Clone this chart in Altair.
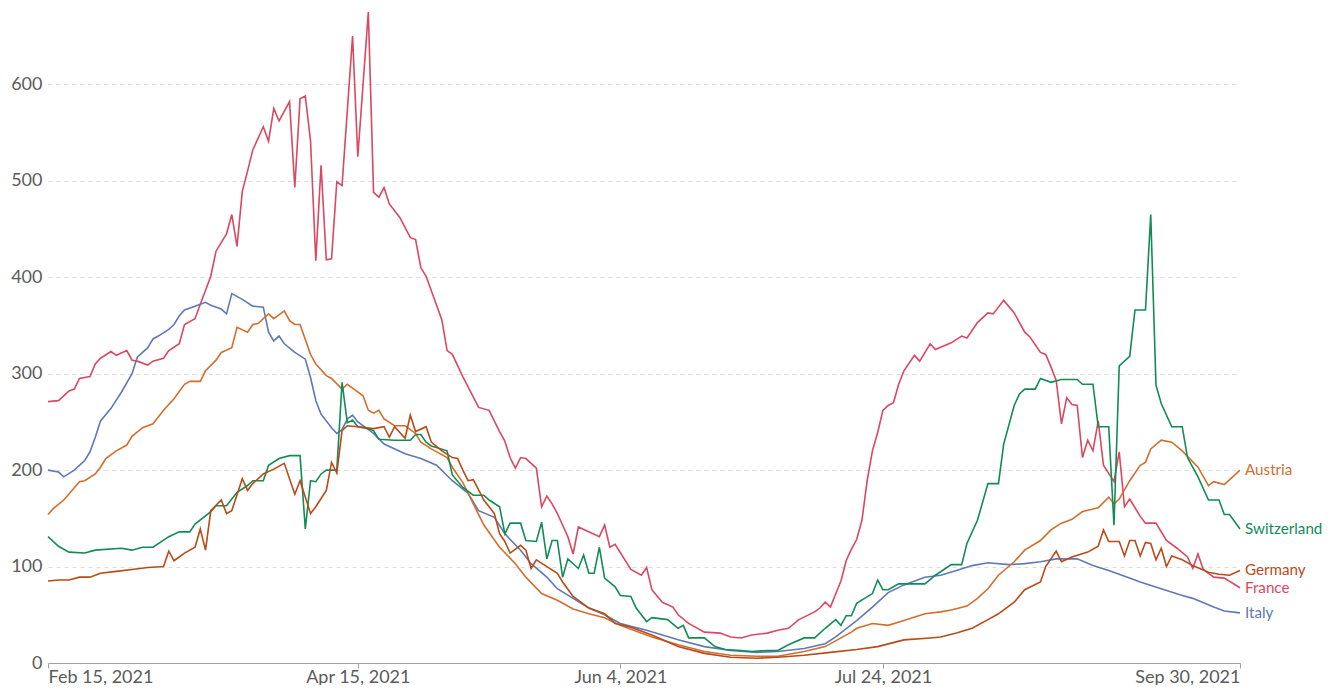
import altair as alt
import pandas as pd

START = pd.Timestamp("2021-02-15")

countries = ["France", "Italy", "Austria", "Switzerland", "Germany"]
colors = ["#DA4861", "#6079B4", "#D26F2C", "#128C55", "#BA4A17"]

france_days = [0, 2, 4, 5, 6, 8, 9, 10, 12, 13, 15, 16, 17, 19, 20, 22, 23, 25, 26, 28, 29, 31, 32, 34, 35, 36, 37, 38, 39, 41, 42, 43, 44, 46, 47, 48, 49, 50, 51, 52, 53, 54, 55, 56, 58, 59, 61, 62, 63, 64, 65, 67, 69, 70, 71, 72, 75, 76, 77, 79, 82, 84, 86, 87, 88, 89, 90, 91, 93, 94, 95, 96, 97, 99, 100, 101, 105, 106, 107, 108, 111, 113, 114, 115, 117, 119, 120, 122, 125, 128, 130, 132, 134, 137, 139, 141, 143, 146, 147, 148, 149, 151, 152, 153, 154, 155, 156, 157, 158, 159, 160, 161, 162, 163, 165, 166, 168, 169, 172, 174, 175, 177, 179, 180, 182, 184, 186, 187, 189, 190, 191, 192, 193, 194, 195, 196, 197, 198, 199, 200, 201, 203, 204, 205, 206, 208, 209, 211, 213, 215, 217, 218, 219, 220, 222, 224, 227]
france_vals = [271, 272, 282, 284, 295, 297, 310, 316, 323, 319, 324, 314, 313, 309, 313, 316, 324, 331, 351, 357, 372, 401, 427, 445, 465, 432, 489, 510, 532, 556, 541, 575, 562, 582, 493, 585, 588, 541, 417, 516, 418, 419, 499, 495, 650, 525, 675, 488, 483, 493, 476, 462, 441, 439, 410, 401, 356, 324, 320, 297, 265, 262, 240, 230, 213, 202, 213, 212, 202, 162, 173, 165, 155, 131, 113, 141, 131, 143, 120, 123, 97, 91, 99, 76, 63, 58, 50, 41, 32, 31, 27, 26, 29, 31, 34, 36, 45, 53, 57, 63, 58, 85, 106, 118, 128, 148, 189, 220, 239, 262, 267, 270, 289, 303, 319, 313, 331, 325, 332, 339, 337, 353, 363, 362, 376, 363, 343, 338, 322, 320, 307, 293, 248, 275, 268, 267, 213, 231, 220, 251, 205, 188, 219, 162, 170, 152, 145, 145, 127, 119, 110, 98, 113, 97, 89, 88, 78]

italy_days = [0, 2, 3, 5, 7, 8, 9, 10, 12, 14, 16, 17, 19, 20, 21, 23, 24, 25, 26, 28, 30, 31, 33, 34, 35, 37, 39, 41, 42, 43, 44, 45, 47, 49, 50, 51, 52, 54, 55, 56, 57, 58, 59, 62, 64, 68, 71, 74, 77, 80, 82, 85, 87, 90, 92, 95, 97, 100, 103, 106, 109, 111, 114, 120, 125, 130, 135, 139, 144, 148, 150, 154, 157, 160, 163, 167, 170, 173, 176, 179, 183, 186, 189, 192, 196, 199, 202, 204, 208, 212, 216, 218, 222, 224, 227]
italy_vals = [200, 198, 193, 200, 210, 219, 234, 251, 264, 281, 300, 317, 327, 336, 339, 346, 351, 360, 366, 370, 374, 371, 367, 362, 383, 377, 370, 369, 343, 334, 339, 331, 322, 315, 296, 272, 258, 244, 238, 242, 253, 257, 250, 238, 227, 217, 212, 205, 189, 176, 158, 151, 134, 117, 103, 89, 77, 67, 57, 50, 41, 38, 34, 24, 17, 13, 11, 12, 15, 20, 27, 44, 58, 73, 81, 89, 91, 96, 101, 104, 102, 103, 105, 108, 108, 101, 96, 92, 84, 77, 70, 67, 58, 54, 52]

austria_days = [0, 1, 3, 6, 7, 9, 10, 11, 13, 15, 16, 18, 20, 22, 24, 26, 27, 29, 30, 32, 33, 35, 36, 38, 39, 40, 42, 43, 45, 46, 47, 48, 50, 51, 53, 54, 56, 57, 58, 60, 61, 62, 63, 64, 66, 68, 70, 71, 73, 76, 77, 79, 81, 83, 86, 89, 91, 94, 97, 100, 103, 106, 109, 111, 115, 120, 125, 130, 135, 139, 144, 148, 151, 153, 154, 157, 160, 163, 167, 170, 172, 175, 177, 179, 181, 184, 186, 189, 191, 193, 195, 197, 200, 202, 203, 204, 206, 208, 209, 210, 212, 214, 216, 219, 221, 222, 224, 227]
austria_vals = [154, 160, 169, 188, 189, 196, 203, 212, 220, 226, 235, 244, 248, 262, 274, 289, 292, 292, 303, 314, 322, 327, 348, 343, 351, 352, 362, 357, 365, 355, 351, 351, 320, 310, 298, 295, 284, 289, 285, 277, 262, 259, 262, 253, 246, 246, 238, 229, 222, 213, 203, 187, 165, 143, 120, 103, 89, 72, 65, 56, 51, 47, 39, 35, 27, 19, 12, 8, 7, 7, 12, 17, 26, 32, 36, 41, 39, 44, 51, 53, 55, 59, 67, 77, 91, 105, 117, 127, 138, 145, 149, 157, 161, 172, 165, 170, 189, 205, 208, 222, 231, 229, 220, 203, 184, 188, 185, 200]

switzerland_days = [0, 2, 4, 7, 9, 14, 16, 18, 20, 23, 25, 27, 28, 31, 32, 34, 36, 38, 39, 41, 42, 44, 46, 48, 49, 50, 51, 52, 53, 55, 56, 57, 58, 59, 61, 62, 63, 66, 69, 70, 71, 72, 73, 76, 77, 79, 81, 83, 84, 86, 87, 88, 90, 91, 93, 94, 95, 96, 97, 98, 99, 101, 102, 103, 104, 105, 106, 108, 109, 111, 112, 114, 115, 118, 120, 121, 122, 125, 127, 129, 132, 134, 137, 139, 141, 144, 146, 148, 150, 151, 152, 153, 154, 157, 158, 159, 160, 162, 167, 169, 172, 174, 175, 177, 179, 181, 182, 184, 185, 186, 188, 189, 191, 193, 196, 197, 199, 200, 202, 203, 204, 206, 207, 209, 210, 211, 212, 214, 216, 217, 219, 221, 223, 224, 225, 227]
switzerland_vals = [131, 121, 115, 114, 117, 119, 117, 120, 120, 131, 136, 136, 144, 157, 163, 163, 177, 184, 189, 189, 205, 212, 215, 215, 139, 189, 188, 196, 200, 200, 291, 249, 252, 245, 243, 241, 232, 231, 231, 237, 237, 229, 225, 220, 195, 182, 174, 174, 169, 162, 134, 145, 145, 127, 126, 146, 108, 127, 127, 89, 108, 98, 112, 93, 93, 120, 88, 79, 70, 69, 57, 43, 47, 45, 36, 39, 26, 26, 17, 14, 13, 12, 13, 13, 19, 26, 26, 36, 45, 39, 49, 49, 62, 72, 86, 76, 76, 82, 82, 91, 102, 102, 124, 148, 186, 186, 227, 267, 279, 284, 284, 295, 291, 294, 294, 289, 289, 245, 245, 143, 308, 318, 366, 366, 465, 288, 269, 245, 245, 213, 193, 169, 169, 154, 154, 139]

germany_days = [0, 2, 4, 6, 8, 10, 13, 16, 19, 22, 23, 24, 26, 28, 29, 30, 31, 33, 34, 35, 37, 38, 39, 41, 43, 45, 47, 48, 50, 51, 53, 54, 55, 56, 57, 59, 62, 64, 65, 66, 68, 69, 70, 72, 73, 75, 77, 78, 79, 80, 81, 83, 85, 86, 87, 88, 90, 91, 92, 93, 95, 97, 98, 100, 103, 106, 108, 111, 115, 120, 125, 130, 135, 139, 144, 149, 154, 158, 163, 168, 170, 173, 176, 179, 181, 184, 186, 189, 190, 192, 193, 195, 198, 200, 201, 202, 204, 205, 206, 207, 208, 209, 210, 211, 212, 213, 214, 216, 218, 221, 223, 225, 227]
germany_vals = [85, 86, 86, 89, 89, 93, 95, 97, 99, 100, 116, 106, 114, 120, 139, 117, 158, 169, 155, 158, 191, 179, 186, 196, 201, 207, 175, 189, 155, 162, 179, 208, 197, 241, 246, 245, 243, 245, 234, 245, 233, 257, 240, 245, 229, 220, 213, 212, 200, 189, 190, 169, 155, 134, 126, 114, 122, 117, 98, 107, 100, 93, 84, 69, 57, 51, 41, 37, 29, 17, 10, 6, 5, 6, 8, 11, 14, 17, 24, 26, 27, 31, 36, 45, 51, 63, 76, 84, 100, 116, 105, 110, 115, 121, 138, 126, 126, 111, 127, 127, 111, 125, 124, 107, 119, 100, 111, 107, 101, 94, 92, 91, 96]

series = {
    "France": (france_days, france_vals),
    "Italy": (italy_days, italy_vals),
    "Austria": (austria_days, austria_vals),
    "Switzerland": (switzerland_days, switzerland_vals),
    "Germany": (germany_days, germany_vals),
}

rows = []
for name, (days, vals) in series.items():
    for d, v in zip(days, vals):
        rows.append({"country": name, "day": d,
                     "date": (START + pd.Timedelta(days=d)).strftime("%Y-%m-%dT00:00:00"),
                     "value": v})
df = pd.DataFrame(rows)
last_day = max(max(d) for d, _ in series.values())
df_end = df[df["day"] == last_day]

tick_dates = [alt.DateTime(year=2021, month=2, date=15),
              alt.DateTime(year=2021, month=4, date=15),
              alt.DateTime(year=2021, month=6, date=4),
              alt.DateTime(year=2021, month=7, date=24),
              alt.DateTime(year=2021, month=9, date=30)]

x_enc = alt.X("date:T",
              scale=alt.Scale(domain=[tick_dates[0], tick_dates[-1]]),
              axis=alt.Axis(values=tick_dates, format="%b %-d, %Y", title=None,
                            grid=False, domainColor="#a0a0a0", tickColor="#a0a0a0",
                            tickSize=5, labelColor="#5b5b5b", labelFont="Lato",
                            labelFontSize=18, labelFlush=True,
                            labelBaseline="alphabetic", labelPadding=14))
y_enc = alt.Y("value:Q",
              scale=alt.Scale(domain=[0, 675], nice=False),
              axis=alt.Axis(values=[0, 100, 200, 300, 400, 500, 600], title=None,
                            domain=False, ticks=False, gridDash=[4, 4],
                            gridColor="#dddddd", labelColor="#5b5b5b",
                            labelFont="Lato", labelFontSize=18, labelPadding=6))
color_enc = alt.Color("country:N", scale=alt.Scale(domain=countries, range=colors),
                      legend=None)

lines = alt.Chart(df).mark_line(strokeWidth=1.6).encode(
    x=x_enc, y=y_enc, color=color_enc, order="day:Q")

labels = alt.Chart(df_end).mark_text(align="left", baseline="middle", dx=5,
                                     font="Lato", fontSize=15.2).encode(
    x="date:T", y="value:Q", text="country:N", color=color_enc)

chart = alt.layer(lines, labels).properties(
    width=1192, height=651,
    padding={"left": 40, "top": 4, "right": 82, "bottom": 22},
    autosize="none",
).configure_view(stroke=None)

chart.save("out.html", embed_options={"renderer": "svg", "actions": False})
